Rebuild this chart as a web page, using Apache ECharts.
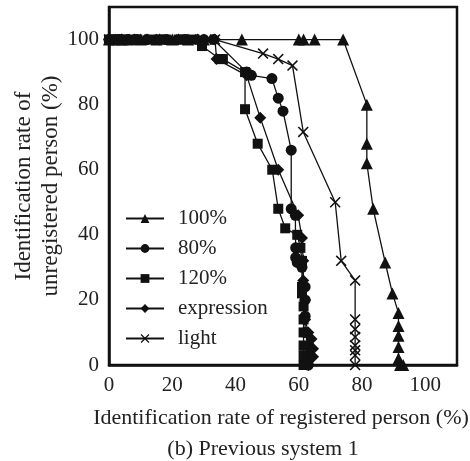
<!DOCTYPE html>
<html>
<head>
<meta charset="utf-8">
<script src="https://cdn.jsdelivr.net/npm/echarts@6/dist/echarts.min.js"></script>
<style>
  html, body { margin: 0; padding: 0; background: #fff; }
  #main { width: 470px; height: 461px; }
</style>
</head>
<body>
<div id="main"></div>
<script>
// 数据：[注册者识别率, 非注册者识别率]
var names = ['100%', '80%', '120%', 'expression', 'light'];

var rate100 = [[0,100],[2,100],[4,100],[6,100],[10,100],[15,100],[20,100],[25,100],[30,100],[42,100],[60,100],[61.5,100],[65,100],[74,100],
  [81.5,80],[81.5,68],[81.5,62],[83.5,48],[87.3,31.5],[89.6,22],[91.5,16],[91.5,12],[91.5,9],[91.5,5.5],[91.5,2],[92,0],[93,0]];

var rate80 = [[0,100],[3,100],[6,100],[9,100],[12,100],[18,100],[24,100],[30,100],[33,100],[43.5,90],[45,89],[51.5,88],[53.5,82],[55,78],
  [57.6,66],[57.6,48],[58.9,46],[59,36],[59,33],[59.5,31.5],[61,30],[62,24],[62,20],[62,15],[62,10],[63,6],[63,3],[63,0]];

var rate120 = [[0,100],[1,100],[2,100],[3,100],[4,100],[5,100],[7,100],[9,100],[14,100],[16,100],[18,100],[22,100],[24,100],[27,100],
  [29.4,98],[35,94],[36,94],[43,90],[43,78.6],[47,68],[51.6,60],[53.5,48],[55.7,42],[59.5,40],[60.5,36],[61,32],[61,24],[61,22],
  [61.5,18],[61.5,14],[61.5,10],[61.5,6],[61.5,3],[61.5,0]];

var expression = [[0,100],[4,100],[8,100],[12,100],[16,100],[22,100],[28,100],[33.5,100],[34,94],[43.5,89],[47.8,76],[53.5,60],
  [59.8,46],[61,39],[61.4,32],[61.4,26],[62,20],[62,14],[63,10],[64,8],[64.5,5],[64.5,2.5],[63,0]];

var light = [[0,100],[5,100],[10,100],[13.6,100],[20,100],[26,100],[33.5,100],[48.7,95.7],[53.5,94],[58,92],[61.4,71.6],[71.5,50],
  [73.4,32],[77.8,26],[77.8,14],[77.8,11],[77.8,8.6],[77.8,6],[77.8,4.5],[77.8,3],[77.8,0]];

var allData = [rate100, rate80, rate120, expression, light];
var xTicks = [0, 20, 40, 60, 80, 100];
var yTicks = [0, 20, 40, 60, 80, 100];

// 叉号标记
var crossPath = 'path://M0,1 L1,0 L5,4 L9,0 L10,1 L6,5 L10,9 L9,10 L5,6 L1,10 L0,9 L4,5 Z';
var symbols = ['triangle', 'circle', 'rect', 'diamond', crossPath];
var sizes = [12, 11, 10, 12, 11];

var font = 'Liberation Serif';
var fs = 21;

var myChart = echarts.init(document.getElementById('main'));

var option = {
  animation: false,
  textStyle: { fontFamily: font, color: '#222' },
  grid: {
    left: 109, right: 13, top: 7, bottom: 96,
    containLabel: false, outerBoundsMode: 'none',
    show: true, borderColor: '#111', borderWidth: 2.5
  },
  legend: {
    orient: 'vertical',
    left: 125, top: 208,
    padding: 0,
    itemWidth: 38, itemHeight: 11, itemGap: 9,
    data: names,
    textStyle: { fontFamily: font, fontSize: fs, color: '#222', padding: [0, 0, 0, 9] }
  },
  xAxis: {
    type: 'value', min: 0, max: 110, interval: 20,
    axisLine: { lineStyle: { color: '#111', width: 2.5 } },
    axisTick: { show: false },
    splitLine: { show: false },
    axisLabel: {
      fontFamily: font, fontSize: fs, color: '#222', margin: 10,
      formatter: function (v) { return xTicks.indexOf(v) >= 0 ? v : ''; }
    }
  },
  yAxis: {
    type: 'value', min: 0, max: 110, interval: 20,
    axisLine: { lineStyle: { color: '#111', width: 2.5 } },
    axisTick: { show: false },
    splitLine: { show: false },
    axisLabel: {
      fontFamily: font, fontSize: fs, color: '#222', margin: 10,
      formatter: function (v) { return yTicks.indexOf(v) >= 0 ? v : ''; }
    }
  },
  // 坐标轴标题和副标题
  graphic: [{
    type: 'text', x: 281, y: 418,
    style: { text: 'Identification rate of registered person (%)', fontFamily: font, fontSize: 22, fill: '#222', align: 'center', verticalAlign: 'middle' }
  }, {
    type: 'text', x: 263, y: 449,
    style: { text: '(b) Previous system 1', fontFamily: font, fontSize: 22, fill: '#222', align: 'center', verticalAlign: 'middle' }
  }, {
    type: 'text', x: 37, y: 186, rotation: Math.PI / 2,
    style: { text: 'Identification rate of\nunregistered person (%)', fontFamily: font, fontSize: 23, lineHeight: 27, fill: '#222', align: 'center', verticalAlign: 'middle' }
  }],
  series: []
};

for (var i = 0; i < names.length; i++) {
  option.series.push({
    name: names[i],
    type: 'line',
    data: allData[i],
    symbol: symbols[i],
    symbolSize: sizes[i],
    showAllSymbol: true,
    itemStyle: { color: '#111' },
    lineStyle: { color: '#111', width: 1.3 },
    clip: false
  });
}

myChart.setOption(option);
</script>
</body>
</html>
